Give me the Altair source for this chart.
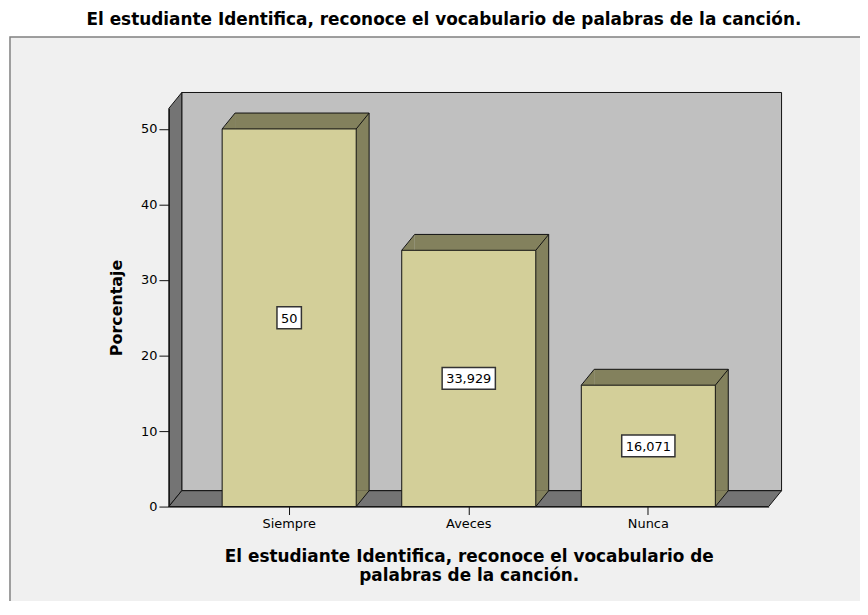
import altair as alt
import pandas as pd

# ---- data ----
categories = ["Siempre", "Aveces", "Nunca"]
percentages = [50.0, 33.929, 16.071]
y_tick_values = [0, 10, 20, 30, 40, 50]
y_max = 52.72

chart_title = "El estudiante Identifica, reconoce el vocabulario de palabras de la canción."
x_title = ["El estudiante Identifica, reconoce el vocabulario de", "palabras de la canción."]
y_title = "Porcentaje"

# ---- geometry / style ----
W, H = 604, 401          # plot area
DX, DY = 13, 16          # 3D depth in pixels
BW = 135                 # bar width in pixels
HB = BW / 2

FRONT = "#d3cf99"
SIDE = "#83815d"
WALL = "#c0c0c0"
DARK = "#747474"
EDGE = "#111111"
BG = "#f0f0f0"
FONT = "DejaVu Sans"


def fmt(v):
    s = f"{v:.3f}".rstrip("0").rstrip(".")
    return s.replace(".", ",")


labels = [fmt(v) for v in percentages]

df = pd.DataFrame({"cat": categories, "pct": percentages, "label": labels})
df["half"] = df["pct"] / 2
df["zero"] = 0.0

one = pd.DataFrame({"k": [1]})


def box_path(lbl):
    digits = sum(c.isdigit() for c in lbl)
    others = len(lbl) - digits
    w = digits * 8.27 + others * 4.2 + 8
    return f"M{-w/2:.1f},-11 H{w/2:.1f} V11 H{-w/2:.1f} Z"


x_axis = alt.Axis(
    title=x_title, titleFont=FONT, titleFontSize=17, titleFontWeight="bold",
    titleColor="black", titleLineHeight=19, titleBaseline="alphabetic",
    titleX=W / 2, titleY=55, titleAlign="center",
    labelFont=FONT, labelFontSize=13, labelColor="black", labelAngle=0,
    labelPadding=3, tickSize=8, tickColor=EDGE, domainColor=EDGE, zindex=1,
)
y_axis = alt.Axis(
    title=y_title, titleFont=FONT, titleFontSize=16, titleFontWeight="bold",
    titleColor="black", titleX=-53, titleY=H / 2, titleAngle=-90,
    titleBaseline="middle", titleAlign="center",
    values=y_tick_values, grid=False,
    labelFont=FONT, labelFontSize=13, labelColor="black", labelPadding=2,
    tickSize=10, tickColor=EDGE, domainColor=EDGE, zindex=1,
)

x_scale = alt.Scale(domain=categories, paddingInner=0, paddingOuter=0.17)
y_scale = alt.Scale(domain=[0, y_max], nice=False, zero=True)

X = alt.X("cat:N", sort=categories, scale=x_scale, axis=x_axis)
Yp = alt.Y("pct:Q", scale=y_scale, axis=y_axis)
Yz = alt.Y("zero:Q", scale=y_scale, axis=y_axis)
Yh = alt.Y("half:Q", scale=y_scale, axis=y_axis)

base = alt.Chart(df)
deco = alt.Chart(one)

# outer frame
frame = deco.mark_rect(fill=BG, stroke="#808080", strokeWidth=1.5).encode(
    x=alt.value(-160), x2=alt.value(W + 300), y=alt.value(-72), y2=alt.value(H + 300)
)
# back wall
back_wall = deco.mark_rect(fill=WALL, stroke=EDGE, strokeWidth=1).encode(
    x=alt.value(DX), x2=alt.value(W + DX), y=alt.value(-DY), y2=alt.value(H - DY)
)
# left wall
left_wall = deco.mark_point(
    shape=f"M0,0 L{DX},{-DY} L{DX},{H - DY} L0,{H} Z", size=4, filled=True,
    fill=DARK, stroke=EDGE, strokeWidth=1, opacity=1,
).encode(x=alt.value(0), y=alt.value(0))
# floor
floor = deco.mark_point(
    shape=f"M0,0 L{DX},{-DY} L{W + DX},{-DY} L{W},0 Z", size=4, filled=True,
    fill=DARK, stroke=EDGE, strokeWidth=1, opacity=1,
).encode(x=alt.value(0), y=alt.value(H))

# bars: back box (top + side faces)
back_box = base.mark_bar(
    width=BW, fill=SIDE, strokeWidth=0, xOffset=DX, x2Offset=DX, yOffset=-DY, y2Offset=-DY
).encode(x=X, y=Yp, y2=alt.Y2("zero:Q"))
tl_tri = base.mark_point(
    shape=f"M{-HB},0.5 L{-HB + DX},{-DY} L{-HB + DX},0.5 Z", size=4, filled=True,
    fill=SIDE, strokeWidth=0, opacity=1,
).encode(x=X, y=Yp)
br_tri = base.mark_point(
    shape=f"M{HB - 0.5},0 L{HB + DX},{-DY} L{HB - 0.5},{-DY} Z", size=4, filled=True,
    fill=SIDE, strokeWidth=0, opacity=1,
).encode(x=X, y=Yz)
front = base.mark_bar(width=BW, fill=FRONT, stroke=EDGE, strokeWidth=1).encode(
    x=X, y=Yp, y2=alt.Y2("zero:Q")
)
right_edge = base.mark_rule(
    color=EDGE, strokeWidth=1, xOffset=HB + DX, yOffset=-DY, y2Offset=-DY
).encode(x=X, y=Yp, y2=alt.Y2("zero:Q"))
top_edges = base.mark_point(
    shape=f"M{-HB},0 L{-HB + DX},{-DY} L{HB + DX},{-DY} M{HB},0 L{HB + DX},{-DY}",
    size=4, filled=False, stroke=EDGE, strokeWidth=1, opacity=1,
).encode(x=X, y=Yp)
bottom_edge = base.mark_point(
    shape=f"M{HB},0 L{HB + DX},{-DY}", size=4, filled=False, stroke=EDGE,
    strokeWidth=1, opacity=1,
).encode(x=X, y=Yz)

# value labels
boxes = base.mark_point(
    size=4, filled=True, fill="white", stroke="#333333", strokeWidth=1.5, opacity=1
).encode(
    x=X, y=Yh,
    shape=alt.Shape("label:N", scale=alt.Scale(domain=labels, range=[box_path(l) for l in labels]), legend=None),
)
texts = base.mark_text(font=FONT, fontSize=13, color="black", baseline="middle", dy=1).encode(
    x=X, y=Yh, text="label:N"
)

chart = alt.layer(
    frame, back_wall, left_wall, floor,
    back_box, tl_tri, br_tri, front, right_edge, top_edges, bottom_edge,
    boxes, texts,
).properties(
    width=W, height=H,
    title=alt.TitleParams(
        text=chart_title, font=FONT, fontSize=17, fontWeight="bold", color="black",
        anchor="middle", frame="group", dx=-25, offset=7,
    ),
    autosize=alt.AutoSizeParams(type="none"),
    padding={"left": 162, "top": 99, "right": 92, "bottom": 93},
).configure_view(stroke=None).configure(background="white")

chart.save("out.html", embed_options={"renderer": "svg", "actions": False})
